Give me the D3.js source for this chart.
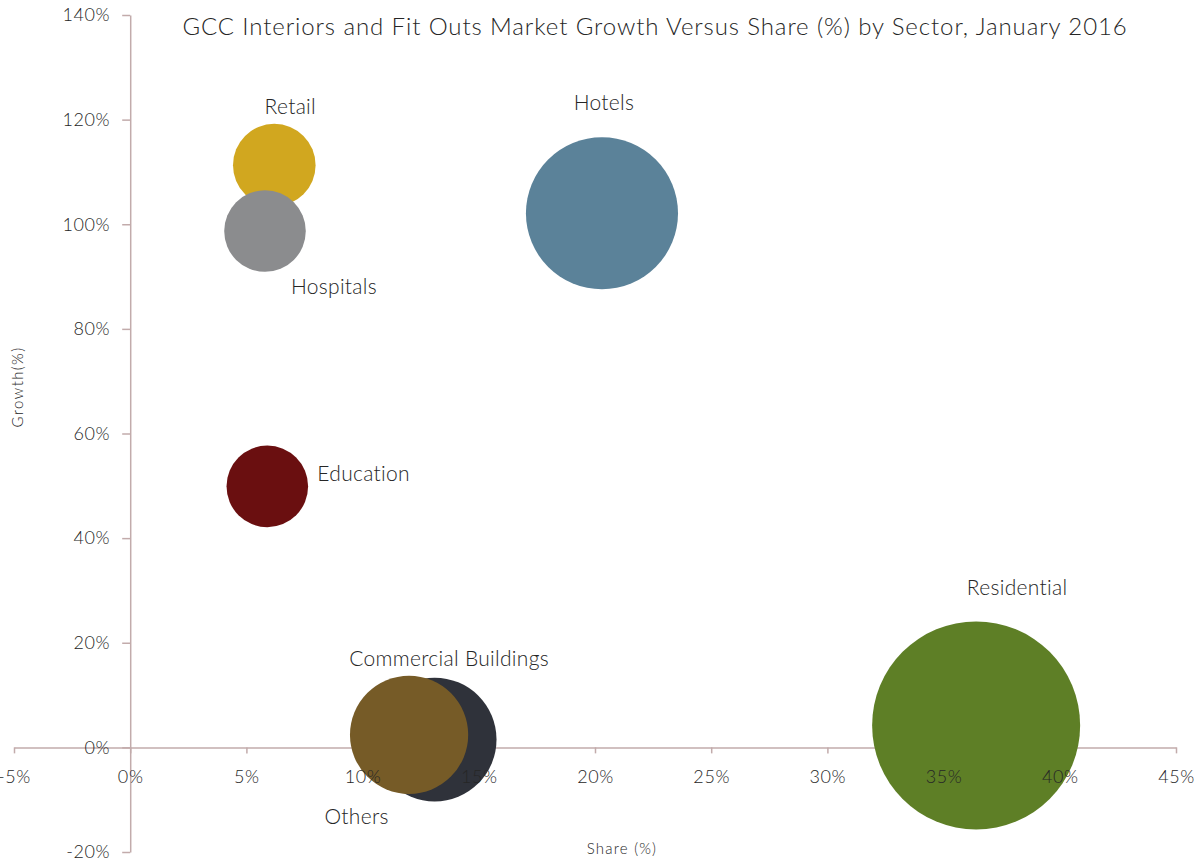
<!DOCTYPE html>
<html>
<head>
<meta charset="utf-8">
<script src="https://cdn.jsdelivr.net/npm/d3@7"></script>
<style>
  body { margin: 0; background: #fff; font-family: Lato, "Open Sans", sans-serif; }
  svg text { fill: #262626; }
</style>
</head>
<body>
<div id="chart"></div>
<script>
// 1: DATA
const sectors = ["Retail", "Hospitals", "Hotels", "Education", "Residential", "Others", "Commercial Buildings"];
const share   = [6.2, 5.8, 20.3, 5.9, 36.4, 13.1, 12.0];     // x, %
const growth  = [111.3, 98.7, 102.1, 49.9, 4.2, 1.5, 2.4];  // y, %
const size    = [4.1, 4.0, 13.9, 4.0, 26.0, 9.2, 8.4];      // bubble size
const colors  = ["#d1a71f", "#8b8c8e", "#5b8299", "#6a0f10", "#5e7f26", "#2f323a", "#765b27"];

const xTicks = [-5, 0, 5, 10, 15, 20, 25, 30, 35, 40, 45];
const yTicks = [-20, 0, 20, 40, 60, 80, 100, 120, 140];

// label placement relative to bubble centre (dx, dy, anchor)
const labelPos = {
  "Retail":               [16, -58, "middle"],
  "Hospitals":            [69, 56, "middle"],
  "Hotels":               [2, -111, "middle"],
  "Education":            [50, -13, "start"],
  "Residential":          [41, -138, "middle"],
  "Others":               [-78, 77, "middle"],
  "Commercial Buildings": [40, -76, "middle"]
};

const data = sectors.map((s, i) => ({ name: s, x: share[i], y: growth[i], size: size[i], color: colors[i] }));

// 2: SVG + SCALES
const W = 1196, H = 861;
const svg = d3.select("#chart").append("svg")
  .attr("width", W)
  .attr("height", H);

const xScale = d3.scaleLinear().domain([-5, 45]).range([14, 1176]);
const yScale = d3.scaleLinear().domain([-20, 140]).range([852, 15]);
const rScale = d3.scaleSqrt().domain([0, 26]).range([0, 104]);

const axisColor = "#c2abab";
const fmt = d => d + "%";

// 3: AXES (lines under the bubbles)
const xAxisG = svg.append("g")
  .attr("transform", `translate(0,${yScale(0)})`)
  .call(d3.axisBottom(xScale).tickValues(xTicks).tickSize(6).tickSizeOuter(0).tickFormat(fmt));
xAxisG.selectAll("text").remove();

const yAxisG = svg.append("g")
  .attr("transform", `translate(${xScale(0)},0)`)
  .call(d3.axisLeft(yScale).tickValues(yTicks).tickSize(8).tickSizeOuter(0).tickPadding(12).tickFormat(fmt));

svg.selectAll(".domain, .tick line").attr("stroke", axisColor).attr("stroke-width", 1.5);
yAxisG.selectAll("text")
  .style("font-size", "18px")
  .style("font-family", "Lato")
  .style("font-weight", 300)
  .style("letter-spacing", "0.6px")
  .attr("fill", "#262626");

// 4: BUBBLES
svg.append("g").selectAll("circle")
  .data(data)
  .enter()
  .append("circle")
  .attr("cx", d => xScale(d.x))
  .attr("cy", d => yScale(d.y))
  .attr("r", d => rScale(d.size))
  .attr("fill", d => d.color);

// 5: X TICK LABELS (drawn over bubbles)
const xLabelsG = svg.append("g")
  .attr("transform", `translate(0,${yScale(0)})`)
  .call(d3.axisBottom(xScale).tickValues(xTicks).tickSize(6).tickPadding(17).tickFormat(fmt));
xLabelsG.select(".domain").remove();
xLabelsG.selectAll(".tick line").remove();
xLabelsG.selectAll("text")
  .style("font-size", "18px")
  .style("font-family", "Lato")
  .style("font-weight", 300)
  .style("letter-spacing", "0.6px")
  .attr("fill", "#262626");

// 6: BUBBLE LABELS
svg.append("g").selectAll("text")
  .data(data)
  .enter()
  .append("text")
  .attr("x", d => xScale(d.x) + labelPos[d.name][0])
  .attr("y", d => yScale(d.y) + labelPos[d.name][1])
  .attr("dy", "0.35em")
  .attr("text-anchor", d => labelPos[d.name][2])
  .style("font-size", "21px")
  .style("font-weight", 300)
  .style("letter-spacing", "0.3px")
  .style("font-family", "Lato")
  .text(d => d.name);

// 7: TITLE + AXIS TITLES
svg.append("text")
  .attr("x", 655)
  .attr("y", 27)
  .attr("dy", "0.35em")
  .attr("text-anchor", "middle")
  .style("font-size", "24px")
  .style("font-weight", 300)
  .style("letter-spacing", "0.9px")
  .text("GCC Interiors and Fit Outs Market Growth Versus Share (%) by Sector, January 2016");

svg.append("text")
  .attr("x", 622)
  .attr("y", 849)
  .attr("dy", "0.35em")
  .attr("text-anchor", "middle")
  .style("font-size", "15px")
  .style("font-weight", 300)
  .style("letter-spacing", "1.2px")
  .text("Share (%)");

svg.append("text")
  .attr("transform", "translate(18,387) rotate(-90)")
  .attr("dy", "0.35em")
  .attr("text-anchor", "middle")
  .style("font-size", "15px")
  .style("font-weight", 300)
  .style("letter-spacing", "1.4px")
  .text("Growth(%)");
</script>
</body>
</html>
